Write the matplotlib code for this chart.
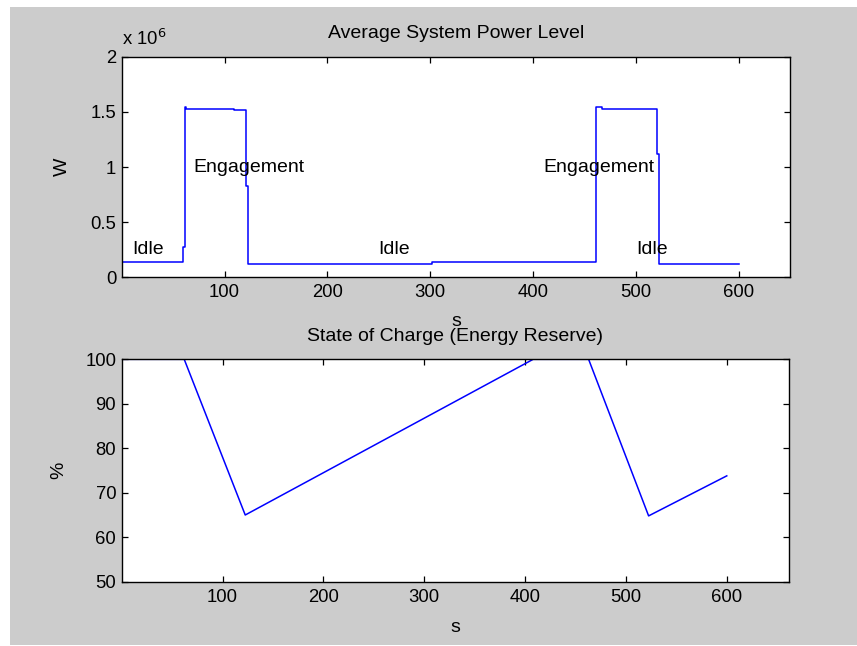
import matplotlib
matplotlib.use("Agg")
import matplotlib.pyplot as plt
from matplotlib.patches import Rectangle
from matplotlib.ticker import FuncFormatter

# power level (step data, W)
power_t = [0, 0.4, 60, 61.5, 63, 109, 120.5, 122.5, 302, 461, 467, 520.7, 522.6, 600]
power_w = [0, 136e3, 272e3, 1.540e6, 1.527e6, 1.515e6, 0.83e6, 121e3, 137e3, 1.544e6, 1.527e6, 1.118e6, 121e3, 121e3]

# state of charge (%)
soc_t = [0, 62, 122.5, 408, 463, 522.5, 600]
soc_pct = [100, 100, 65, 100, 100, 64.8, 73.8]

# phase labels: (t, W, text)
phase_t = [10, 70, 249, 410, 500]
phase_w = [0.25e6, 1.0e6, 0.25e6, 1.0e6, 0.25e6]
phase_txt = ["Idle", "Engagement", "Idle", "Engagement", "Idle"]

TXT = 14
TICK = 13.3
plt.rcParams['font.family'] = ['Liberation Sans', 'DejaVu Sans']
plt.rcParams['font.size'] = TXT

W, H = 857, 646
fig = plt.figure(figsize=(W / 100, H / 100), dpi=100, facecolor='white')
fig.patches.append(Rectangle((10 / W, 1 / H), 1 - 10 / W, 1 - 8 / H,
                             transform=fig.transFigure, facecolor='#cccccc',
                             edgecolor='none', zorder=-10))

ax1 = fig.add_axes([0.142, 0.5707, 0.780, 0.3415])
ax2 = fig.add_axes([0.142, 0.0995, 0.779, 0.3443])

def style(ax):
    ax.tick_params(direction='in', length=4, width=0.9, top=True, right=True,
                   labelsize=TICK, pad=5)
    ax.tick_params(axis='y', pad=4)
    for s in ax.spines.values():
        s.set_linewidth(1.0)

# top: power
ax1.step(power_t, power_w, where='post', color='#0000ff', lw=1.1)
for t, w, s in zip(phase_t, phase_w, phase_txt):
    ax1.text(t, w, s, ha='left', va='center', fontsize=TXT)
ax1.set_xlim(0, 650)
ax1.set_ylim(0, 2e6)
ax1.set_xticks([100, 200, 300, 400, 500, 600])
ax1.set_yticks([0, 0.5e6, 1e6, 1.5e6, 2e6])
ax1.yaxis.set_major_formatter(FuncFormatter(lambda v, p: '%g' % (v / 1e6)))
ax1.text(0.0, 1.053, r'x 10$^{6}$', transform=ax1.transAxes, ha='left',
         va='baseline', fontsize=TICK)
ax1.set_title('Average System Power Level', y=1.107, va='center', pad=0, fontsize=TXT)
ax1.set_xlabel('s', fontsize=TXT)
ax1.set_ylabel('W', fontsize=TXT)
ax1.xaxis.set_label_coords(0.5, -0.201)
ax1.xaxis.label.set_va('center')
ax1.yaxis.set_label_coords(-0.088, 0.5)
ax1.yaxis.label.set_va('center')
style(ax1)

# bottom: state of charge
ax2.plot(soc_t, soc_pct, color='#0000ff', lw=1.1)
ax2.set_xlim(0, 662)
ax2.set_ylim(50, 100)
ax2.set_xticks([100, 200, 300, 400, 500, 600])
ax2.set_yticks([50, 60, 70, 80, 90, 100])
ax2.set_title('State of Charge (Energy Reserve)', y=1.1016, va='center', pad=0, fontsize=TXT)
ax2.set_xlabel('s', fontsize=TXT)
ax2.set_ylabel('%', fontsize=TXT)
ax2.xaxis.set_label_coords(0.5, -0.208)
ax2.xaxis.label.set_va('center')
ax2.yaxis.set_label_coords(-0.095, 0.5)
ax2.yaxis.label.set_va('center')
style(ax2)

fig.savefig('out.png', dpi=100, facecolor=fig.get_facecolor())
